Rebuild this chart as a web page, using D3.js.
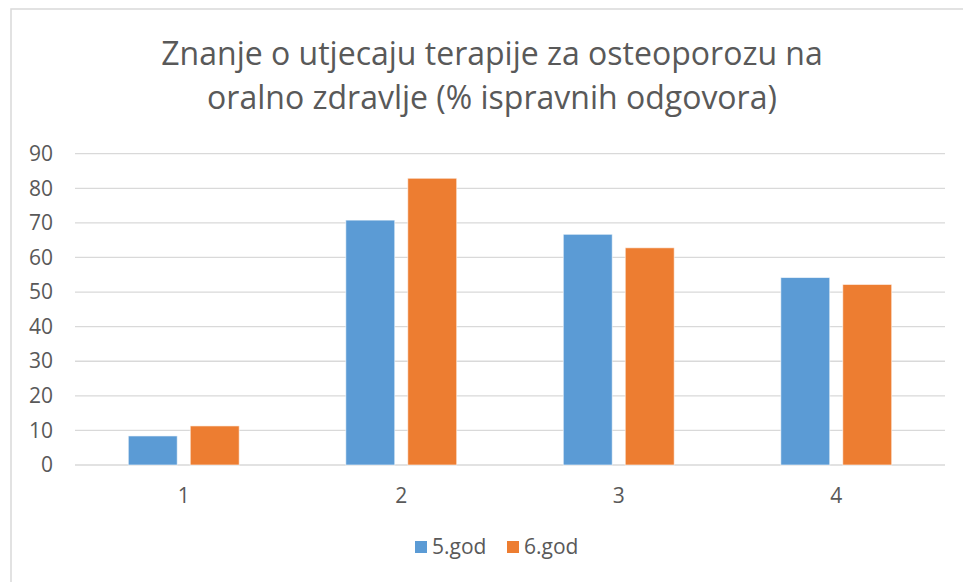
<!DOCTYPE html>
<html>
<head>
<meta charset="utf-8">
<script src="https://cdn.jsdelivr.net/npm/d3@7"></script>
<style>
  body { margin: 0; background: #fff; }
  text { font-family: "Open Sans", sans-serif; fill: #595959; }
</style>
</head>
<body>
<svg id="chart" width="963" height="582"></svg>
<script>
  // chart data
  const categories = ['1', '2', '3', '4'];
  const seriesNames = ['5.god', '6.god'];
  const god5 = [8.4, 70.8, 66.7, 54.2];
  const god6 = [11.3, 82.9, 62.8, 52.2];
  const yTicks = [0, 10, 20, 30, 40, 50, 60, 70, 80, 90];
  const titleLines = ['Znanje o utjecaju terapije za osteoporozu na', 'oralno zdravlje (% ispravnih odgovora)'];

  const colors = ['#5b9bd5', '#ed7d31'];
  const rows = categories.map((c, i) => ({ cat: c, values: [god5[i], god6[i]] }));

  const svg = d3.select('#chart');

  // outer chart border
  svg.append('rect')
    .attr('x', 11).attr('y', 9)
    .attr('width', 970).attr('height', 590)
    .attr('fill', 'none')
    .attr('stroke', '#d9d9d9')
    .attr('stroke-width', 1.5);

  const plot = { left: 75, right: 945, top: 153.7, bottom: 465 };

  const x0 = d3.scaleBand()
    .domain(categories)
    .range([plot.left, plot.right])
    .padding(0);

  const x1 = d3.scaleBand()
    .domain(seriesNames)
    .range([0, x0.bandwidth()])
    .paddingInner(0.21)
    .paddingOuter(0.86);

  const y = d3.scaleLinear()
    .domain([0, 90])
    .range([plot.bottom, plot.top]);

  // gridlines
  svg.append('g')
    .selectAll('line')
    .data(yTicks)
    .join('line')
    .attr('x1', plot.left).attr('x2', plot.right)
    .attr('y1', d => y(d)).attr('y2', d => y(d))
    .attr('stroke', '#d9d9d9')
    .attr('stroke-width', 1.3);

  // y axis labels
  const yAxis = svg.append('g')
    .attr('transform', `translate(${plot.left - 22},0)`)
    .call(d3.axisLeft(y).tickValues(yTicks).tickSize(0).tickPadding(0));
  yAxis.select('.domain').remove();
  yAxis.selectAll('text')
    .attr('font-size', 21)
    .style('font-family', '"Open Sans", sans-serif')
    .attr('fill', '#595959');

  // x axis labels
  const xAxis = svg.append('g')
    .attr('transform', `translate(0,${plot.bottom})`)
    .call(d3.axisBottom(x0).tickSize(0).tickPadding(23));
  xAxis.select('.domain').remove();
  xAxis.selectAll('text')
    .attr('font-size', 21)
    .style('font-family', '"Open Sans", sans-serif')
    .attr('fill', '#595959');

  // bars
  const groups = svg.append('g')
    .selectAll('g')
    .data(rows)
    .join('g')
    .attr('transform', d => `translate(${x0(d.cat)},0)`);

  groups.selectAll('rect')
    .data(d => d.values.map((v, i) => ({ name: seriesNames[i], value: v, i })))
    .join('rect')
    .attr('x', d => x1(d.name))
    .attr('y', d => y(d.value))
    .attr('width', x1.bandwidth())
    .attr('height', d => y(0) - y(d.value))
    .attr('fill', d => colors[d.i])
    .attr('stroke', '#fff')
    .attr('stroke-opacity', 0.6)
    .attr('stroke-width', 1);

  // title
  svg.append('g')
    .selectAll('text')
    .data(titleLines)
    .join('text')
    .attr('x', 492)
    .attr('y', (d, i) => 65 + i * 44)
    .attr('text-anchor', 'middle')
    .attr('font-size', 32)
    .text(d => d);

  // legend
  const legend = svg.append('g')
    .selectAll('g')
    .data(seriesNames)
    .join('g')
    .attr('transform', (d, i) => `translate(${415 + i * 92},541)`);

  legend.append('rect')
    .attr('width', 12).attr('height', 12)
    .attr('fill', (d, i) => colors[i]);

  legend.append('text')
    .attr('x', 17).attr('y', 13)
    .attr('font-size', 21)
    .text(d => d);
</script>
</body>
</html>
